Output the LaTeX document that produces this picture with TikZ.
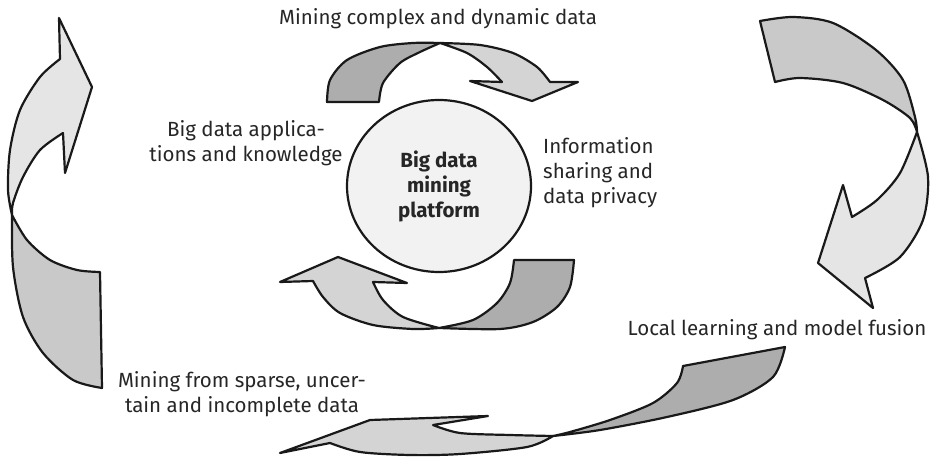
\documentclass[tikz,border=0pt]{standalone}
\usepackage{fontspec}
\setmainfont{Fira Sans}
\usetikzlibrary{shapes.geometric}
\definecolor{bandDark}{gray}{0.68}
\definecolor{bandMid}{gray}{0.79}
\definecolor{bandLight}{gray}{0.83}
\definecolor{bandPale}{gray}{0.90}
\definecolor{discFill}{gray}{0.95}
\definecolor{edgeCol}{gray}{0.1}

\begin{document}
\begin{tikzpicture}[x=1pt, y=-1pt,
  band/.style={draw=edgeCol, line width=2.2pt, line join=round},
  txt/.style={font=\fontsize{20.5pt}{25pt}\selectfont, text=black!85, inner sep=0pt, align=center},
  hub/.style={ellipse, draw=edgeCol, line width=2.2pt, fill=discFill, minimum width=184pt,
              minimum height=172pt, font=\fontsize{20.5pt}{25pt}\selectfont\bfseries,
              text=black!85, align=center, inner sep=0pt},
]
\useasboundingbox (0,0) rectangle (933,457);

% Centre platform
\node[hub] (platform) at (439,186) {Big data\\mining\\platform};

% Top arrow (left half dark, right half light)
\filldraw[band, fill=bandDark] plot[smooth] coordinates {(327,102) (330,80) (347,60) (380,47) (413,43) (440,43)}
  -- plot[smooth] coordinates {(440,43) (420,52) (400,63) (383,83) (379,102)} -- cycle;
\filldraw[band, fill=bandLight] plot[smooth] coordinates {(440,43) (480,45) (513,53) (537,67) (550,82)}
  -- (578,82) -- (532,101) -- (470,81) -- (502,82)
  -- plot[smooth] coordinates {(502,82) (487,67) (467,53) (440,43)} -- cycle;

% Bottom arrow (right half dark, left half light)
\filldraw[band, fill=bandDark] plot[smooth] coordinates {(574,260) (570,287) (557,307) (533,322) (500,329) (439,328)}
  -- plot[smooth] coordinates {(439,328) (473,320) (497,303) (510,283) (514,260)} -- cycle;
\filldraw[band, fill=bandLight] plot[smooth] coordinates {(439,328) (413,329) (373,325) (340,313) (323,297) (313,281)}
  -- (280,282) -- (338,257) -- (407,283) -- (373,282)
  -- plot[smooth] coordinates {(373,282) (383,300) (403,317) (439,328)} -- cycle;

% Left loop
\filldraw[band, fill=bandPale] plot[smooth] coordinates {(60,59) (40,77) (20,110) (10,150) (8,190) (12,215)}
  -- plot[smooth] coordinates {(12,215) (13,203) (23,177) (40,150) (63,133)}
  -- (65,173) -- (92,87) -- (59,18) -- cycle;
\filldraw[band, fill=bandMid] plot[smooth] coordinates {(12,215) (13,267) (23,317) (43,353) (73,380) (102,388)}
  -- (100,272)
  -- plot[smooth] coordinates {(100,272) (77,270) (50,260) (27,240) (12,215)} -- cycle;

% Right loop
\filldraw[band, fill=bandMid] plot[smooth] coordinates {(760,21) (793,17) (833,23) (876,50) (903,80) (915,117) (917,132)}
  -- plot[smooth] coordinates {(917,132) (910,118) (883,100) (843,83) (800,78) (775,82)} -- cycle;
\filldraw[band, fill=bandPale] plot[smooth] coordinates {(917,132) (928,177) (923,220) (900,257) (865,278)}
  -- (873,308) -- (818,263) -- (843,185) -- (852,217)
  -- plot[smooth] coordinates {(852,217) (877,200) (900,173) (917,132)} -- cycle;

% Lower sweep
\filldraw[band, fill=bandDark] plot[smooth] coordinates {(785,347) (773,377) (733,400) (667,417) (600,430) (553,436)}
  -- plot[smooth] coordinates {(553,436) (570,432) (610,420) (653,403) (677,383) (683,366)} -- cycle;
\filldraw[band, fill=bandLight] plot[smooth] coordinates {(553,436) (527,447) (460,454) (410,455) (360,452) (330,443)}
  -- (280,453) -- (370,420) -- (488,416) -- (433,425)
  -- plot[smooth] coordinates {(433,425) (460,433) (510,435) (553,436)} -- cycle;

% Labels
\node[txt] (complex) at (438,19) {Mining complex and dynamic data};
\node[txt] (apps) at (246,143) {Big data applica-\\tions and knowledge};
\node[txt, anchor=west, align=left] (privacy) at (543,173) {Information\\sharing and\\data privacy};
\node[txt] (fusion) at (777,330) {Local learning and model fusion};
\node[txt] (sparse) at (242,394) {Mining from sparse, uncer-\\tain and incomplete data};

\end{tikzpicture}
\end{document}
